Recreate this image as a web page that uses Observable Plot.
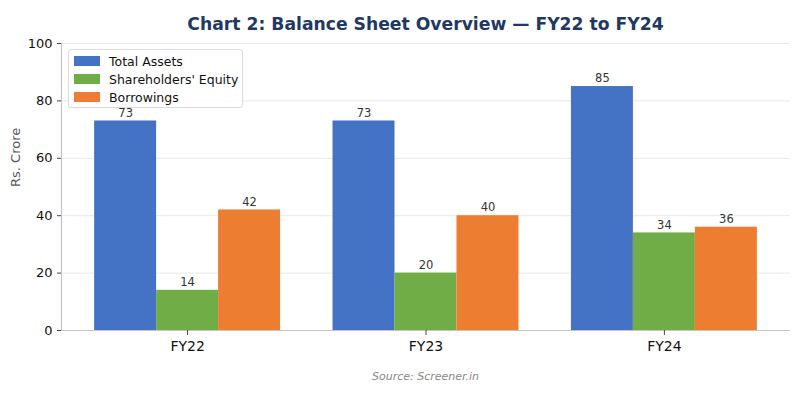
<!DOCTYPE html>
<html>
<head>
<meta charset="utf-8">
<script src="https://cdn.jsdelivr.net/npm/d3@7"></script>
<script src="https://cdn.jsdelivr.net/npm/@observablehq/plot@0.6"></script>
<style>
  html, body { margin: 0; padding: 0; background: white; }
  #wrap { position: relative; width: 800px; height: 400px; font-family: "DejaVu Sans", sans-serif; }
  #title { position: absolute; left: 61px; width: 729px; top: 14px; text-align: center; font-weight: bold; font-size: 17.2px; color: #1F3864; }
  #source { position: absolute; left: 61px; width: 729px; top: 370px; text-align: center; font-style: italic; font-size: 11px; color: #888; }
  #legend { position: absolute; left: 68px; top: 49px; width: 173px; height: 57px; border: 1px solid #dcdcdc; border-radius: 3px; background: rgba(255,255,255,0.85); font-size: 12.5px; color: #111; }
  .row { position: absolute; left: 5px; height: 14px; display: flex; align-items: center; }
  .sw { width: 26px; height: 10px; margin-right: 9px; }
</style>
</head>
<body>
<div id="wrap">
  <div id="chart"></div>
  <div id="title">Chart 2: Balance Sheet Overview — FY22 to FY24</div>
  <div id="legend"></div>
  <div id="source">Source: Screener.in</div>
</div>
<script>
const categories = ["FY22", "FY23", "FY24"];
const seriesNames = ["Total Assets", "Shareholders' Equity", "Borrowings"];
const totalAssets = [73, 73, 85];
const shareholdersEquity = [14, 20, 34];
const borrowings = [42, 40, 36];
const colors = ["#4472C4", "#70AD47", "#ED7D31"];
const yTicks = [0, 20, 40, 60, 80, 100];

const seriesValues = [totalAssets, shareholdersEquity, borrowings];
const barW = 0.26;
const rows = [];
seriesValues.forEach((vals, j) => {
  vals.forEach((v, i) => {
    const c = i + (j - 1) * barW;
    rows.push({ series: seriesNames[j], cat: categories[i], x1: c - barW / 2, x2: c + barW / 2, xc: c, value: v });
  });
});
// matplotlib-like 5% margins on data extent
const lo0 = -barW * 1.5, hi0 = categories.length - 1 + barW * 1.5;
const m = (hi0 - lo0) * 0.05;
const xDomain = [lo0 - m, hi0 + m];

const chart = Plot.plot({
  width: 800,
  height: 400,
  marginLeft: 61,
  marginRight: 10,
  marginTop: 43,
  marginBottom: 70,
  style: { fontFamily: "DejaVu Sans, sans-serif", background: "white" },
  x: { domain: xDomain },
  y: { domain: [0, 100] },
  color: { domain: seriesNames, range: colors },
  marks: [
    Plot.gridY(yTicks, { stroke: "#e8e8e8", strokeOpacity: 1, strokeWidth: 1 }),
    Plot.rectY(rows, { x1: "x1", x2: "x2", y: "value", fill: "series" }),
    Plot.text(rows, { x: "xc", y: "value", text: d => String(d.value), dy: -8, fontSize: 11.5, fill: "#333" }),
    Plot.ruleY([0], { stroke: "#c4c4c4", strokeWidth: 1.2 }),
    Plot.ruleX([xDomain[0]], { stroke: "#c4c4c4", strokeWidth: 1.2 }),
    Plot.axisY({ ticks: yTicks, tickSize: 4, tickPadding: 5, fontSize: 13, stroke: "#444", fill: "#111", label: null }),
    Plot.axisX({ ticks: [0, 1, 2], tickFormat: i => categories[i], tickSize: 5, tickPadding: 6, fontSize: 14, stroke: "#444", fill: "#111", label: null }),
    Plot.text(["Rs. Crore"], { frameAnchor: "left", rotate: -90, dx: -46, fontSize: 13, fill: "#555" })
  ]
});
document.getElementById("chart").appendChild(chart);

const legend = document.getElementById("legend");
seriesNames.forEach((name, j) => {
  const r = document.createElement("div");
  r.className = "row";
  r.style.top = (4 + j * 18) + "px";
  r.innerHTML = `<div class="sw" style="background:${colors[j]}"></div><span>${name}</span>`;
  legend.appendChild(r);
});
</script>
</body>
</html>
